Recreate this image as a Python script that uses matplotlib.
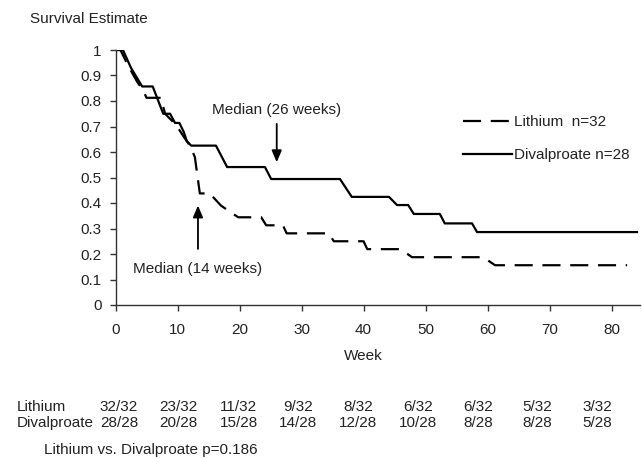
import matplotlib
matplotlib.use("Agg")
import matplotlib.pyplot as plt

plt.rcParams['font.family'] = ['Liberation Sans', 'DejaVu Sans']
plt.rcParams['lines.scale_dashes'] = False

# Kaplan-Meier curve vertices (week, survival estimate)
lithium_weeks = [0, 0.8, 2.0, 3.5, 4.5, 5.0, 7.3, 8.0, 9.2, 10.2, 11.0, 12.0, 12.8, 13.6,
                 15.2, 17.0, 18.8, 19.8, 23.5, 24.3, 27.0, 27.6, 34.4, 35.2, 40.0, 40.6,
                 46.0, 47.8, 59.3, 61.2, 82.5]
lithium_surv = [1.0, 1.0, 0.94, 0.875, 0.84, 0.8125, 0.8125, 0.75, 0.72, 0.69, 0.66, 0.625,
                0.58, 0.4375, 0.4375, 0.39, 0.36, 0.344, 0.344, 0.3125, 0.3125, 0.281, 0.281,
                0.25, 0.25, 0.219, 0.219, 0.1875, 0.1875, 0.156, 0.156]

divalproate_weeks = [0, 1.2, 2.5, 4.3, 6.0, 7.7, 8.8, 9.6, 10.3, 11.0, 11.5, 12.2, 16.2, 18.0,
                     24.1, 25.1, 36.2, 38.1, 44.1, 45.4, 47.2, 48.1, 52.3, 53.1, 57.5, 58.3, 84.1]
divalproate_surv = [1.0, 1.0, 0.93, 0.857, 0.857, 0.75, 0.75, 0.714, 0.714, 0.679, 0.643, 0.625,
                    0.625, 0.541, 0.541, 0.494, 0.494, 0.424, 0.424, 0.392, 0.392, 0.357, 0.357,
                    0.32, 0.32, 0.286, 0.286]

# Medians
lithium_median = 14
divalproate_median = 26

# Numbers at risk
risk_weeks = [0, 10, 20, 30, 40, 50, 60, 70, 80]
lithium_n = 32
divalproate_n = 28
lithium_at_risk = [32, 23, 11, 9, 8, 6, 6, 5, 3]
divalproate_at_risk = [28, 20, 15, 14, 12, 10, 8, 8, 5]
p_value = 0.186

W, H = 642, 459
fig = plt.figure(figsize=(W / 100, H / 100), dpi=100)
x0, x1, y_top, y_bot = 115.5, 639.5, 50, 305
ax = fig.add_axes([x0 / W, 1 - y_bot / H, (x1 - x0) / W, (y_bot - y_top) / H])
ax.set_xlim(0, 84.5)
ax.set_ylim(0, 1)

fs = 11
ax.plot(lithium_weeks, lithium_surv, color='black', lw=1.6, dashes=(13, 7),
        solid_capstyle='butt', dash_capstyle='butt',
        label='Lithium  n=%d' % lithium_n)
ax.plot(divalproate_weeks, divalproate_surv, color='black', lw=1.6,
        label='Divalproate n=%d' % divalproate_n)

for s in ['top', 'right']:
    ax.spines[s].set_visible(False)
for s in ['left', 'bottom']:
    ax.spines[s].set_color('#333333')
    ax.spines[s].set_linewidth(1.0)

ax.set_xticks(risk_weeks)
ax.set_yticks([i / 10 for i in range(11)])
ax.set_yticklabels(['0'] + ['%.1f' % (i / 10) for i in range(1, 10)] + ['1'])
ax.tick_params(axis='x', direction='out', length=4, width=1, color='#333333',
               pad=9, labelsize=fs, labelcolor='#222222')
ax.tick_params(axis='y', direction='out', length=4, width=1, color='#333333',
               pad=6, labelsize=fs, labelcolor='#222222')

# Median arrows
arrow = dict(arrowstyle='-|>,head_length=0.7,head_width=0.3', color='black', lw=1.3,
             shrinkA=0, shrinkB=0)
ax.annotate('', xy=(divalproate_median, 0.56), xytext=(divalproate_median, 0.71),
            arrowprops=arrow)
ax.text(divalproate_median, 0.765, 'Median (%d weeks)' % divalproate_median,
        ha='center', va='center', fontsize=fs, color='#222222')
ax.annotate('', xy=(lithium_median - 0.7, 0.39), xytext=(lithium_median - 0.7, 0.22),
            arrowprops=arrow)
ax.text(lithium_median - 0.8, 0.14, 'Median (%d weeks)' % lithium_median,
        ha='center', va='center', fontsize=fs, color='#222222')

leg = ax.legend(loc='upper left', bbox_to_anchor=(463 / W, 1 - 115 / H),
                bbox_transform=fig.transFigure, frameon=False, fontsize=fs,
                handlelength=3.2, handletextpad=0.15, labelspacing=1.25,
                borderpad=0, borderaxespad=0)
for t in leg.get_texts():
    t.set_color('#222222')

fig.text(30 / W, 1 - 19 / H, 'Survival Estimate', fontsize=fs, ha='left', va='center',
         color='#222222')
fig.text(363 / W, 1 - 356 / H, 'Week', fontsize=fs, ha='center', va='center',
         color='#222222')

# Numbers-at-risk table
row_y = [407, 423]
fig.text(17 / W, 1 - row_y[0] / H, 'Lithium', fontsize=fs, ha='left', va='center',
         color='#222222')
fig.text(17 / W, 1 - row_y[1] / H, 'Divalproate', fontsize=fs, ha='left', va='center',
         color='#222222')
for i, wk in enumerate(risk_weeks):
    cx = 119 + 59.8 * i
    fig.text(cx / W, 1 - row_y[0] / H, '%d/%d' % (lithium_at_risk[i], lithium_n),
             fontsize=fs, ha='center', va='center', color='#222222')
    fig.text(cx / W, 1 - row_y[1] / H, '%d/%d' % (divalproate_at_risk[i], divalproate_n),
             fontsize=fs, ha='center', va='center', color='#222222')

fig.text(44 / W, 1 - 454 / H, 'Lithium vs. Divalproate p=%.3f' % p_value,
         fontsize=fs, ha='left', va='baseline', color='#222222')

fig.savefig('out.png', dpi=100)
